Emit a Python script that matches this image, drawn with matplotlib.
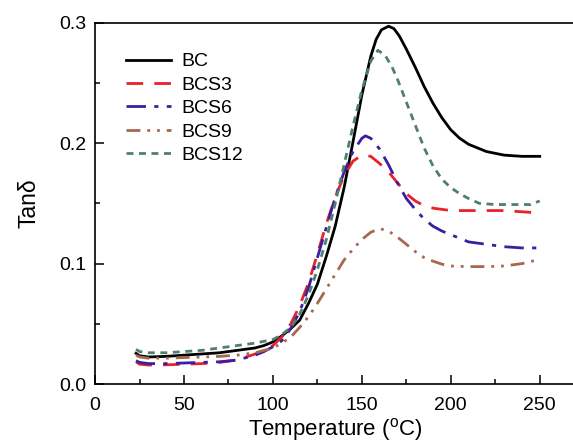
import matplotlib
matplotlib.use("Agg")
import matplotlib.pyplot as plt
from matplotlib.ticker import MultipleLocator

plt.rcParams['font.family'] = ['Liberation Sans', 'DejaVu Sans']
plt.rcParams['mathtext.fontset'] = 'custom'
plt.rcParams['mathtext.rm'] = 'Liberation Sans'

# Tan delta vs temperature
t_bc = [23, 25, 30, 40, 50, 60, 70, 80, 90, 95, 100, 105, 110, 115, 120, 125, 130, 135,
        140, 145, 150, 155, 158, 161, 165, 168, 171, 175, 180, 185, 190, 195, 200, 205,
        210, 220, 230, 240, 250]
bc = [0.0255, 0.0235, 0.0225, 0.023, 0.024, 0.025, 0.026, 0.028, 0.030, 0.032, 0.035, 0.040,
      0.046, 0.053, 0.067, 0.083, 0.106, 0.131, 0.163, 0.201, 0.240, 0.272, 0.286, 0.294,
      0.297, 0.295, 0.289, 0.278, 0.263, 0.247, 0.233, 0.221, 0.211, 0.204, 0.199, 0.193,
      0.190, 0.189, 0.189]

t_bcs3 = [23, 25, 30, 40, 50, 60, 70, 80, 90, 95, 100, 105, 110, 115, 120, 125, 130, 135,
          140, 145, 150, 155, 160, 165, 170, 175, 180, 185, 190, 200, 210, 220, 230, 240, 250]
bcs3 = [0.0185, 0.0165, 0.0158, 0.016, 0.0165, 0.017, 0.018, 0.020, 0.025, 0.028, 0.032,
        0.039, 0.050, 0.065, 0.084, 0.108, 0.133, 0.155, 0.173, 0.185, 0.190, 0.189, 0.183,
        0.176, 0.167, 0.158, 0.152, 0.148, 0.146, 0.144, 0.144, 0.144, 0.144, 0.143, 0.142]

t_bcs6 = [23, 25, 30, 40, 50, 60, 70, 80, 90, 95, 100, 105, 110, 115, 120, 125, 130, 135,
          140, 145, 150, 152, 155, 160, 165, 170, 175, 180, 185, 190, 195, 200, 210, 220, 230, 240, 250]
bcs6 = [0.0194, 0.018, 0.017, 0.017, 0.0175, 0.018, 0.0185, 0.020, 0.024, 0.027, 0.031,
        0.036, 0.046, 0.060, 0.080, 0.105, 0.130, 0.155, 0.176, 0.193, 0.204, 0.206, 0.204,
        0.195, 0.182, 0.167, 0.154, 0.145, 0.137, 0.131, 0.127, 0.124, 0.118, 0.116, 0.114,
        0.113, 0.113]

t_bcs9 = [23, 25, 30, 40, 50, 60, 70, 80, 90, 100, 105, 110, 115, 120, 125, 130, 135, 140,
          145, 150, 155, 160, 165, 170, 175, 180, 185, 190, 195, 200, 210, 220, 230, 240, 250]
bcs9 = [0.024, 0.0225, 0.0215, 0.0215, 0.022, 0.0225, 0.023, 0.024, 0.026, 0.030, 0.034,
        0.039, 0.047, 0.056, 0.067, 0.079, 0.091, 0.103, 0.112, 0.120, 0.126, 0.129, 0.127,
        0.122, 0.116, 0.110, 0.105, 0.102, 0.0995, 0.098, 0.0975, 0.0975, 0.098, 0.100, 0.1035]

t_bcs12 = [23, 25, 30, 40, 50, 60, 70, 80, 90, 100, 105, 110, 115, 120, 125, 130, 135, 140,
           145, 150, 155, 159, 163, 167, 170, 175, 180, 185, 190, 195, 200, 205, 210, 216,
           225, 235, 245, 250]
bcs12 = [0.0288, 0.027, 0.026, 0.026, 0.027, 0.028, 0.030, 0.032, 0.034, 0.037, 0.041,
         0.047, 0.058, 0.074, 0.095, 0.120, 0.150, 0.182, 0.214, 0.244, 0.268, 0.277, 0.273,
         0.263, 0.253, 0.234, 0.215, 0.196, 0.181, 0.170, 0.163, 0.158, 0.154, 0.150, 0.149,
         0.149, 0.149, 0.152]

fig = plt.figure(figsize=(5.73, 4.43), dpi=100)
ax = fig.add_axes([0.166, 0.133, 0.838, 0.816])

ax.plot(t_bc, bc, color='black', lw=2, label='BC')
ax.plot(t_bcs3, bcs3, color='#e8222a', lw=2, dashes=(6, 4), label='BCS3')
ax.plot(t_bcs6, bcs6, color='#3b1fa0', lw=2, dashes=(7, 3, 1.5, 3), label='BCS6')
ax.plot(t_bcs9, bcs9, color='#a8684f', lw=2, dashes=(5, 2.5, 1, 2.5, 1, 2.5), label='BCS9')
ax.plot(t_bcs12, bcs12, color='#4f7f6e', lw=2, dashes=(2.5, 2), label='BCS12')

ax.set_xlim(0, 270)
ax.set_ylim(0, 0.3)
ax.xaxis.set_major_locator(MultipleLocator(50))
ax.xaxis.set_minor_locator(MultipleLocator(25))
ax.yaxis.set_major_locator(MultipleLocator(0.1))
ax.yaxis.set_minor_locator(MultipleLocator(0.05))
ax.tick_params(which='both', direction='in', labelsize=14, width=1.1)
ax.tick_params(which='major', length=6.5)
ax.tick_params(which='minor', length=3.5)
ax.tick_params(axis='x', which='major', pad=9)
ax.tick_params(axis='y', which='major', pad=6)
for s in ax.spines.values():
    s.set_linewidth(1.2)

ax.set_xlabel(r'Temperature ($^{\rm o}$C)', fontsize=16, labelpad=1.5)
ax.set_ylabel('Tanδ', fontsize=16.5, labelpad=14)

ax.legend(loc='upper left', bbox_to_anchor=(0.028, 0.965), frameon=False, fontsize=14,
          handlelength=2.3, labelspacing=0.3, handletextpad=0.55)

fig.savefig('out.png', dpi=100)
